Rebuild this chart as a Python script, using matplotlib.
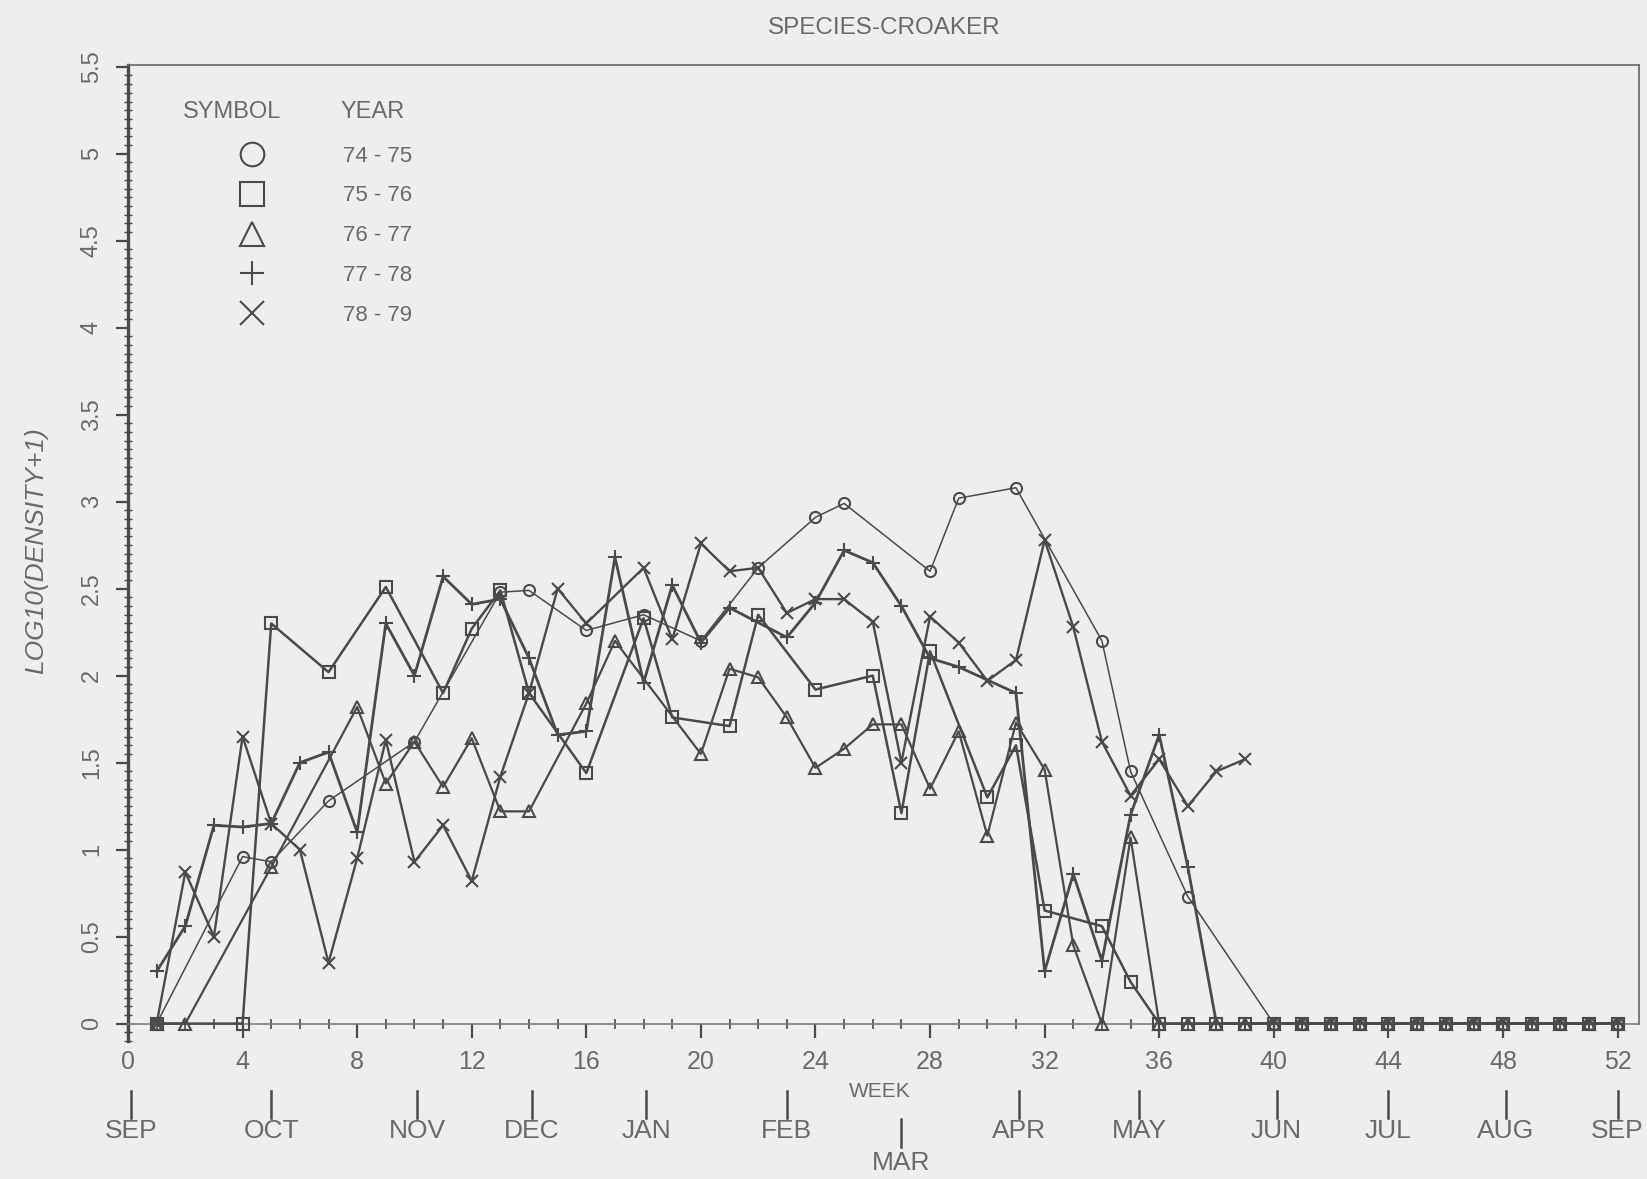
import matplotlib
matplotlib.use("Agg")
import matplotlib.pyplot as plt
from matplotlib.lines import Line2D
from matplotlib.ticker import MultipleLocator

plt.rcParams['font.family'] = ['Liberation Sans', 'DejaVu Sans']

# ---- weekly log10(density+1) of croaker, one series per sampling year ----
weeks_7475 = [1, 4, 5, 7, 10, 13, 14, 16, 18, 20, 22, 24, 25, 28, 29, 31, 34, 35, 37,
              40, 41, 42, 43, 44, 45, 46, 47, 48, 49, 50, 51, 52]
vals_7475 = [0, 0.96, 0.93, 1.28, 1.62, 2.48, 2.49, 2.26, 2.35, 2.20, 2.62, 2.91, 2.99,
             2.60, 3.02, 3.08, 2.20, 1.45, 0.73, 0, 0, 0, 0, 0, 0, 0, 0, 0, 0, 0, 0, 0]

weeks_7576 = [1, 4, 5, 7, 9, 11, 12, 13, 14, 16, 18, 19, 21, 22, 24, 26, 27, 28, 30, 31,
              32, 34, 35, 36, 37, 38, 39, 40, 41, 42, 43, 44, 45, 46, 47, 48, 49, 50, 51, 52]
vals_7576 = [0, 0, 2.30, 2.02, 2.51, 1.90, 2.27, 2.49, 1.90, 1.44, 2.33, 1.76, 1.71, 2.35,
             1.92, 2.00, 1.21, 2.14, 1.30, 1.60, 0.65, 0.56, 0.24, 0, 0, 0, 0, 0, 0, 0,
             0, 0, 0, 0, 0, 0, 0, 0, 0, 0]

weeks_7677 = [1, 2, 5, 8, 9, 10, 11, 12, 13, 14, 16, 17, 20, 21, 22, 23, 24, 25, 26, 27,
              28, 29, 30, 31, 32, 33, 34, 35, 36, 37, 38, 39, 40, 41, 42, 43, 44, 45, 46,
              47, 48, 49, 50, 51, 52]
vals_7677 = [0, 0, 0.90, 1.82, 1.38, 1.62, 1.36, 1.64, 1.22, 1.22, 1.84, 2.20, 1.55, 2.04,
             1.99, 1.76, 1.47, 1.58, 1.72, 1.72, 1.35, 1.68, 1.08, 1.73, 1.46, 0.45, 0,
             1.07, 0, 0, 0, 0, 0, 0, 0, 0, 0, 0, 0, 0, 0, 0, 0, 0, 0]

weeks_7778 = [1, 2, 3, 4, 5, 6, 7, 8, 9, 10, 11, 12, 13, 14, 15, 16, 17, 18, 19, 20, 21,
              23, 24, 25, 26, 27, 28, 29, 31, 32, 33, 34, 35, 36, 37, 38, 39, 40, 41, 42,
              43, 44, 45, 46, 47, 48, 49, 50, 51, 52]
vals_7778 = [0.30, 0.56, 1.14, 1.13, 1.15, 1.50, 1.56, 1.10, 2.30, 2.00, 2.57, 2.41, 2.44,
             2.10, 1.66, 1.68, 2.68, 1.96, 2.52, 2.19, 2.39, 2.22, 2.42, 2.72, 2.65, 2.40,
             2.10, 2.05, 1.90, 0.30, 0.86, 0.36, 1.20, 1.66, 0.90, 0, 0, 0, 0, 0, 0, 0,
             0, 0, 0, 0, 0, 0, 0, 0]

weeks_7879 = [1, 2, 3, 4, 5, 6, 7, 8, 9, 10, 11, 12, 13, 14, 15, 16, 18, 19, 20, 21, 22,
              23, 24, 25, 26, 27, 28, 29, 30, 31, 32, 33, 34, 35, 36, 37, 38, 39]
vals_7879 = [0, 0.87, 0.50, 1.65, 1.15, 1.00, 0.35, 0.95, 1.63, 0.93, 1.14, 0.82, 1.42,
             1.90, 2.50, 2.30, 2.62, 2.21, 2.76, 2.60, 2.62, 2.36, 2.44, 2.44, 2.31, 1.50,
             2.34, 2.19, 1.97, 2.09, 2.78, 2.28, 1.62, 1.31, 1.52, 1.25, 1.45, 1.52]

year_labels = ["74 - 75", "75 - 76", "76 - 77", "77 - 78", "78 - 79"]
week_ticks = list(range(0, 53, 4))
y_ticks = [0, 0.5, 1, 1.5, 2, 2.5, 3, 3.5, 4, 4.5, 5, 5.5]
y_tick_labels = ["0", "0.5", "1", "1.5", "2", "2.5", "3", "3.5", "4", "4.5", "5", "5.5"]
month_names = ["SEP", "OCT", "NOV", "DEC", "JAN", "FEB", "MAR", "APR", "MAY", "JUN",
               "JUL", "AUG", "SEP"]
month_weeks = [0.1, 5.0, 10.1, 14.1, 18.1, 23.0, 27.0, 31.1, 35.3, 40.1, 44.0, 48.1, 52.0]

BG = "#eeeeee"
INK = "#4a4a4a"
TXT = "#6a6a6a"

fig = plt.figure(figsize=(16.47, 11.79), dpi=100)
fig.patch.set_facecolor(BG)
ax = fig.add_axes([128 / 1647, 1 - 1041 / 1179, 1511 / 1647, (1041 - 65) / 1179])
ax.set_facecolor(BG)
ax.set_xlim(0, 52.75)
ax.set_ylim(-0.1, 5.51)

# frame: left axis, top border, right border down to zero, week axis on zero
ax.spines['left'].set_linewidth(2.4)
ax.spines['left'].set_color(INK)
ax.spines['top'].set_linewidth(1.2)
ax.spines['top'].set_color("#666666")
ax.spines['right'].set_visible(False)
ax.axvline(52.75, ymin=0.1 / 5.61, ymax=1, color="#666666", lw=1.2, clip_on=False)
ax.spines['bottom'].set_position(('data', 0))
ax.spines['bottom'].set_color("#777777")
ax.spines['bottom'].set_linewidth(1.1)

ax.set_xticks(week_ticks)
ax.set_xticklabels([str(w) for w in week_ticks])
ax.xaxis.set_minor_locator(MultipleLocator(1))
ax.tick_params(axis='x', which='major', direction='out', length=10, width=1.6,
               color=INK, labelsize=18, labelcolor=TXT, pad=9)
ax.tick_params(axis='x', which='minor', direction='inout', length=7, width=1.2,
               color=INK)

ax.set_yticks(y_ticks)
ax.set_yticklabels(y_tick_labels, rotation=90, va='center')
ax.yaxis.set_minor_locator(MultipleLocator(0.05))
ax.tick_params(axis='y', which='major', direction='out', length=9, width=1.6,
               color=INK, labelsize=17, labelcolor=TXT, pad=9)
ax.tick_params(axis='y', which='minor', direction='inout', length=6, width=1.0,
               color=INK)

series = [
    (weeks_7475, vals_7475, 'o', 1.1, 8),
    (weeks_7576, vals_7576, 's', 1.8, 8),
    (weeks_7677, vals_7677, '^', 1.6, 8),
    (weeks_7778, vals_7778, '+', 2.0, 10),
    (weeks_7879, vals_7879, 'x', 1.7, 9),
]
for w, v, m, lw, ms in series:
    ax.plot(w, v, color=INK, lw=lw, marker=m, ms=ms, mfc='none', mec=INK, mew=1.5,
            clip_on=False, zorder=3)

# legend: symbol column and year column
handles = [Line2D([], [], ls='none', marker=m, ms=17, mfc='none', mec=INK, mew=1.5)
           for (_, _, m, _, _) in series]
leg = ax.legend(handles, year_labels, loc='upper left', bbox_to_anchor=(0.054, 0.938),
                frameon=False, fontsize=16, labelcolor=TXT, handlelength=2,
                handletextpad=3.1, labelspacing=0.85, borderpad=0.4)
ax.text(0.0688, 0.952, "SYMBOL", transform=ax.transAxes, ha='center', va='center',
        fontsize=17, color=TXT)
ax.text(0.162, 0.952, "YEAR", transform=ax.transAxes, ha='center', va='center',
        fontsize=17, color=TXT)

# month calendar below the week axis
for name, wk in zip(month_names, month_weeks):
    if name == "MAR":
        bar, lab = (-0.55, -0.71), -0.80
    else:
        bar, lab = (-0.39, -0.54), -0.62
    ax.plot([wk, wk], bar, color=INK, lw=1.8, clip_on=False)
    ax.text(wk, lab, name, ha='center', va='center', fontsize=19, color=TXT,
            clip_on=False)
ax.text(26.25, -0.39, "WEEK", ha='center', va='center', fontsize=15, color=TXT,
        clip_on=False)

fig.text(0.537, 1 - 28 / 1179, "SPECIES-CROAKER", ha='center', va='center',
         fontsize=17.5, color=TXT)
fig.text(0.022, 0.533, "LOG10(DENSITY+1)", rotation=90, ha='center', va='center',
         fontsize=19, style='italic', color=TXT)

fig.savefig("out.png", dpi=100, facecolor=BG)
